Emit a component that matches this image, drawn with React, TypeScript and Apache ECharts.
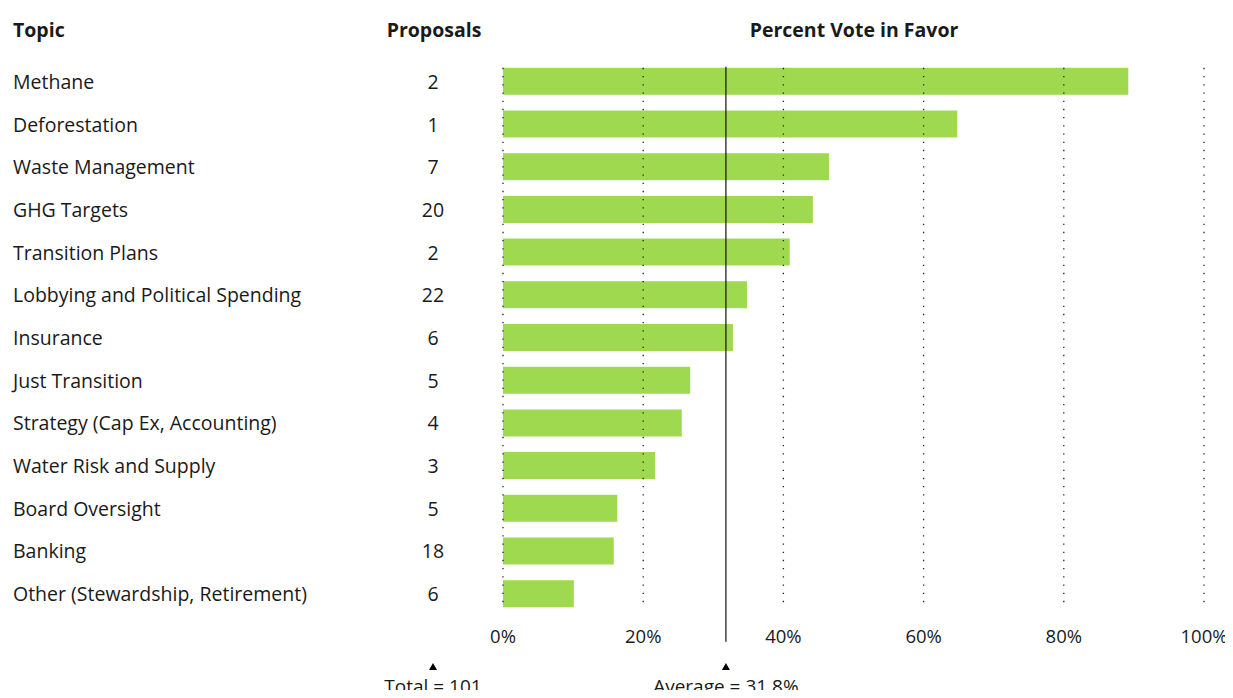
import React, { useEffect, useRef } from "react";
import * as echarts from "echarts";

const topics = [
  "Methane",
  "Deforestation",
  "Waste Management",
  "GHG Targets",
  "Transition Plans",
  "Lobbying and Political Spending",
  "Insurance",
  "Just Transition",
  "Strategy (Cap Ex, Accounting)",
  "Water Risk and Supply",
  "Board Oversight",
  "Banking",
  "Other (Stewardship, Retirement)",
];
const proposals = [2, 1, 7, 20, 2, 22, 6, 5, 4, 3, 5, 18, 6];
const percentInFavor = [89.2, 64.8, 46.5, 44.2, 40.9, 34.8, 32.8, 26.7, 25.5, 21.7, 16.3, 15.8, 10.1];
const gridTicks = [0, 20, 40, 60, 80, 100];
const averageValue = 31.8;
const totalProposals = 101;

const FONT = "'Open Sans'";
const TEXT = "#1a1a1a";

export default function App() {
  const ref = useRef<HTMLDivElement>(null);
  useEffect(() => {
    if (!ref.current) return;
    const chart = echarts.init(ref.current, undefined, { renderer: "svg" });
    const n = topics.length;
    const halfBar = 13.5;
    chart.setOption({
      animation: false,
      textStyle: { fontFamily: FONT },
      grid: { left: 503, right: 29, top: 60, bottom: 83, containLabel: false },
      xAxis: {
        type: "value",
        min: 0,
        max: 100,
        interval: 20,
        axisLine: { show: false },
        axisTick: { show: false },
        splitLine: { show: false },
        axisLabel: {
          formatter: "{value}%",
          color: TEXT,
          fontSize: 18.5,
          fontFamily: FONT,
          margin: 11,
        },
      },
      yAxis: [
        {
          type: "category",
          data: topics,
          inverse: true,
          axisLine: { show: false },
          axisTick: { show: false },
          axisLabel: {
            align: "left",
            margin: 490,
            color: TEXT,
            fontSize: 19.5,
            fontFamily: FONT,
          },
        },
        {
          type: "category",
          data: proposals.map(String),
          inverse: true,
          position: "left",
          axisLine: { show: false },
          axisTick: { show: false },
          axisLabel: {
            align: "center",
            margin: 70,
            color: TEXT,
            fontSize: 19.5,
            fontFamily: FONT,
          },
        },
      ],
      graphic: [
        {
          type: "text",
          x: 13,
          y: 29,
          style: {
            text: "Topic",
            font: `bold 19.5px ${FONT}`,
            fill: TEXT,
            align: "left",
            verticalAlign: "middle",
          },
        },
        {
          type: "text",
          x: 434,
          y: 29,
          style: {
            text: "Proposals",
            font: `bold 19.5px ${FONT}`,
            fill: TEXT,
            align: "center",
            verticalAlign: "middle",
          },
        },
        {
          type: "text",
          x: 854,
          y: 29,
          style: {
            text: "Percent Vote in Favor",
            font: `bold 19.5px ${FONT}`,
            fill: TEXT,
            align: "center",
            verticalAlign: "middle",
          },
        },
        {
          type: "polygon",
          shape: { points: [[433, 663], [429, 670], [437, 670]] },
          style: { fill: "#000" },
        },
        {
          type: "text",
          x: 433,
          y: 686,
          style: {
            text: `Total = ${totalProposals}`,
            font: `19px ${FONT}`,
            fill: TEXT,
            align: "center",
            verticalAlign: "middle",
          },
        },
      ],
      series: [
        {
          type: "bar",
          data: percentInFavor,
          barWidth: 27,
          itemStyle: { color: "#9ED94F" },
          z: 2,
        },
        {
          type: "custom",
          clip: false,
          z: 5,
          data: gridTicks.map((v) => [v, 0]),
          renderItem: (params: any, api: any) => {
            const v = api.value(0);
            const top = api.coord([v, 0]);
            const bot = api.coord([v, n - 1]);
            return {
              type: "line",
              shape: { x1: top[0], y1: top[1] - halfBar, x2: bot[0], y2: bot[1] + halfBar },
              style: { stroke: "#222", lineWidth: 1.3, lineDash: [1.3, 6.9] },
            };
          },
        },
        {
          type: "custom",
          clip: false,
          z: 6,
          data: [[averageValue, 0]],
          renderItem: (params: any, api: any) => {
            const v = api.value(0);
            const top = api.coord([v, 0]);
            const bot = api.coord([v, n - 1]);
            const x = top[0];
            return {
              type: "group",
              children: [
                {
                  type: "line",
                  shape: { x1: x, y1: top[1] - halfBar - 1, x2: x, y2: bot[1] + 48 },
                  style: { stroke: "#111", lineWidth: 1.2 },
                },
                {
                  type: "polygon",
                  shape: { points: [[x, 663], [x - 4, 670], [x + 4, 670]] },
                  style: { fill: "#000" },
                },
                {
                  type: "text",
                  x: x,
                  y: 686,
                  style: {
                    text: `Average = ${v}%`,
                    font: `19px ${FONT}`,
                    fill: TEXT,
                    align: "center",
                    verticalAlign: "middle",
                  },
                },
              ],
            };
          },
        },
      ],
    });
    return () => chart.dispose();
  }, []);
  return <div ref={ref} style={{ width: 1233, height: 698, margin: -8 }} />;
}
